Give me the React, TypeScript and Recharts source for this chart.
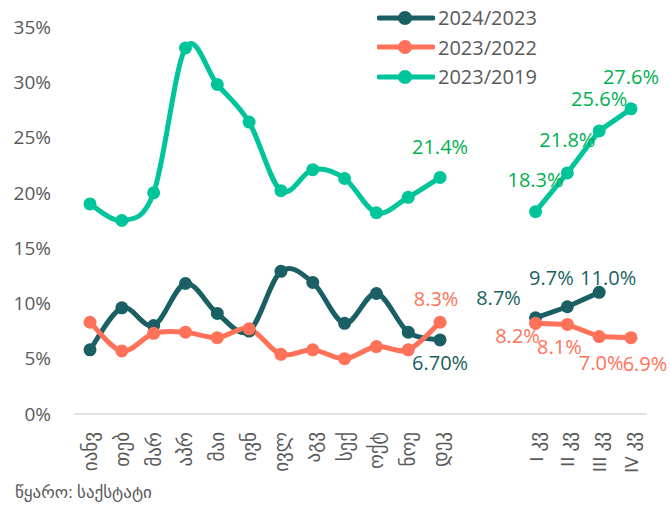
import { CartesianGrid, LabelList, Line, LineChart, XAxis, YAxis } from "recharts";

const monthLabels = ["იანვ", "თებ", "მარ", "აპრ", "მაი", "ივნ", "ივლ", "აგვ", "სექ", "ოქტ", "ნოე", "დეკ"];
const quarterLabels = ["I კვ", "II კვ", "III კვ", "IV კვ"];
const yTicks = [0, 5, 10, 15, 20, 25, 30, 35];

// 2024/2023
const darkMonths = [5.8, 9.6, 8.0, 11.8, 9.1, 7.5, 12.9, 11.9, 8.2, 10.9, 7.4, 6.7];
const darkQuarters = [8.7, 9.7, 11.0, null];
// 2023/2022
const redMonths = [8.3, 5.7, 7.3, 7.4, 6.9, 7.7, 5.4, 5.8, 5.0, 6.1, 5.8, 8.3];
const redQuarters = [8.2, 8.1, 7.0, 6.9];
// 2023/2019
const greenMonths = [19.0, 17.5, 20.0, 33.1, 29.8, 26.4, 20.2, 22.1, 21.3, 18.2, 19.6, 21.4];
const greenQuarters = [18.3, 21.8, 25.6, 27.6];

const DARK = "#1a5f63";
const RED = "#ff7158";
const GREEN = "#00c49a";
const GREEN_TEXT = "#00b050";
const GREY = "#595959";
const FONT = "'Open Sans', 'DejaVu Sans', sans-serif";

const blanks = ["", " "];
const rows = [
  ...monthLabels.map((label, i) => ({
    label,
    darkM: darkMonths[i],
    redM: redMonths[i],
    greenM: greenMonths[i],
  })),
  ...blanks.map((label) => ({ label })),
  ...quarterLabels.map((label, i) => ({
    label,
    darkQ: darkQuarters[i],
    redQ: redQuarters[i],
    greenQ: greenQuarters[i],
  })),
];

// Excel-style smoothed line (cardinal spline through the points)
function smoothCurve(context: any) {
  let pts: number[][] = [];
  return {
    areaStart() {},
    areaEnd() {},
    lineStart() {
      pts = [];
    },
    point(x: number, y: number) {
      pts.push([+x, +y]);
    },
    lineEnd() {
      const n = pts.length;
      if (!n) return;
      context.moveTo(pts[0][0], pts[0][1]);
      for (let i = 0; i < n - 1; i++) {
        const p0 = pts[Math.max(i - 1, 0)];
        const p1 = pts[i];
        const p2 = pts[i + 1];
        const p3 = pts[Math.min(i + 2, n - 1)];
        context.bezierCurveTo(
          p1[0] + (p2[0] - p0[0]) / 6,
          p1[1] + (p2[1] - p0[1]) / 6,
          p2[0] - (p3[0] - p1[0]) / 6,
          p2[1] - (p3[1] - p1[1]) / 6,
          p2[0],
          p2[1]
        );
      }
    },
  };
}

// label offsets by row index: [dx, dy]
const greenMonthPos: Record<number, number[]> = { 11: [0, -31] };
const greenQuarterPos: Record<number, number[]> = { 14: [0, -32], 15: [0, -33], 16: [0, -32], 17: [0, -32] };
const darkMonthPos: Record<number, number[]> = { 11: [0, 23] };
const darkQuarterPos: Record<number, number[]> = { 14: [-37, -20], 15: [-16, -29], 16: [9, -15] };
const redMonthPos: Record<number, number[]> = { 11: [-4, -24] };
const redQuarterPos: Record<number, number[]> = { 14: [-18, 12], 15: [-8, 22], 16: [2, 26], 17: [14, 26] };

function makeLabel(pos: Record<number, number[]>, color: string, digits = 1) {
  return (props: any) => {
    const { x, y, value, index } = props;
    const p = pos[index];
    if (!p || value == null) return null;
    return (
      <text
        x={x + p[0]}
        y={y + p[1]}
        fill={color}
        fontSize={20}
        fontFamily={FONT}
        textAnchor="middle"
        dominantBaseline="central"
      >
        {Number(value).toFixed(digits)}%
      </text>
    );
  };
}

function RotatedTick(props: any) {
  const { x, y, payload } = props;
  return (
    <text
      transform={`translate(${x},${y + 10}) rotate(-90)`}
      textAnchor="end"
      dominantBaseline="central"
      fill={GREY}
      fontSize={19}
      fontFamily={FONT}
    >
      {payload.value}
    </text>
  );
}

const legendItems = [
  { name: "2024/2023", color: DARK },
  { name: "2023/2022", color: RED },
  { name: "2023/2019", color: GREEN },
];

function LegendBox() {
  return (
    <div style={{ position: "absolute", left: 377, top: 3 }}>
      {legendItems.map((item) => (
        <div key={item.name} style={{ display: "flex", alignItems: "center", height: 29.5 }}>
          <svg width={58} height={20}>
            <line x1={2} y1={10} x2={56} y2={10} stroke={item.color} strokeWidth={5} strokeLinecap="round" />
            <circle cx={28} cy={10} r={7} fill={item.color} />
          </svg>
          <span style={{ marginLeft: 3, fontSize: 20, color: GREY, fontFamily: FONT }}>{item.name}</span>
        </div>
      ))}
    </div>
  );
}

const dotStyle = (color: string) => ({ r: 6.5, fill: color, stroke: color, strokeWidth: 0 });

export default function App() {
  return (
    <div style={{ position: "absolute", left: 0, top: 0, width: 670, height: 509, background: "#fff" }}>
      <LineChart width={670} height={509} data={rows} margin={{ top: 27, right: 23, bottom: 0, left: 0 }}>
        <CartesianGrid horizontal={false} vertical={false} />
        <XAxis
          dataKey="label"
          interval={0}
          height={95}
          padding={{ left: 16, right: 16 }}
          tick={<RotatedTick />}
          tickLine={false}
          axisLine={{ stroke: "#d9d9d9", strokeWidth: 1.5 }}
        />
        <YAxis
          width={74}
          domain={[0, 35]}
          ticks={yTicks}
          tickFormatter={(v: number) => `${v}%`}
          axisLine={false}
          tickLine={false}
          tickMargin={17}
          tick={{ fill: GREY, fontSize: 19, fontFamily: FONT }}
        />
        <Line dataKey="darkM" type={smoothCurve as any} stroke={DARK} strokeWidth={5} dot={dotStyle(DARK)} activeDot={false} isAnimationActive={false}>
          <LabelList content={makeLabel(darkMonthPos, DARK, 2)} />
        </Line>
        <Line dataKey="darkQ" type="linear" stroke={DARK} strokeWidth={5} dot={dotStyle(DARK)} activeDot={false} isAnimationActive={false}>
          <LabelList content={makeLabel(darkQuarterPos, DARK)} />
        </Line>
        <Line dataKey="redM" type={smoothCurve as any} stroke={RED} strokeWidth={5} dot={dotStyle(RED)} activeDot={false} isAnimationActive={false}>
          <LabelList content={makeLabel(redMonthPos, RED)} />
        </Line>
        <Line dataKey="redQ" type="linear" stroke={RED} strokeWidth={5} dot={dotStyle(RED)} activeDot={false} isAnimationActive={false}>
          <LabelList content={makeLabel(redQuarterPos, RED)} />
        </Line>
        <Line dataKey="greenM" type={smoothCurve as any} stroke={GREEN} strokeWidth={5} dot={dotStyle(GREEN)} activeDot={false} isAnimationActive={false}>
          <LabelList content={makeLabel(greenMonthPos, GREEN_TEXT)} />
        </Line>
        <Line dataKey="greenQ" type="linear" stroke={GREEN} strokeWidth={5} dot={dotStyle(GREEN)} activeDot={false} isAnimationActive={false}>
          <LabelList content={makeLabel(greenQuarterPos, GREEN_TEXT)} />
        </Line>
      </LineChart>
      <LegendBox />
      <div style={{ position: "absolute", left: 15, top: 480, fontSize: 17, color: GREY, fontFamily: FONT }}>
        წყარო: საქსტატი
      </div>
    </div>
  );
}
